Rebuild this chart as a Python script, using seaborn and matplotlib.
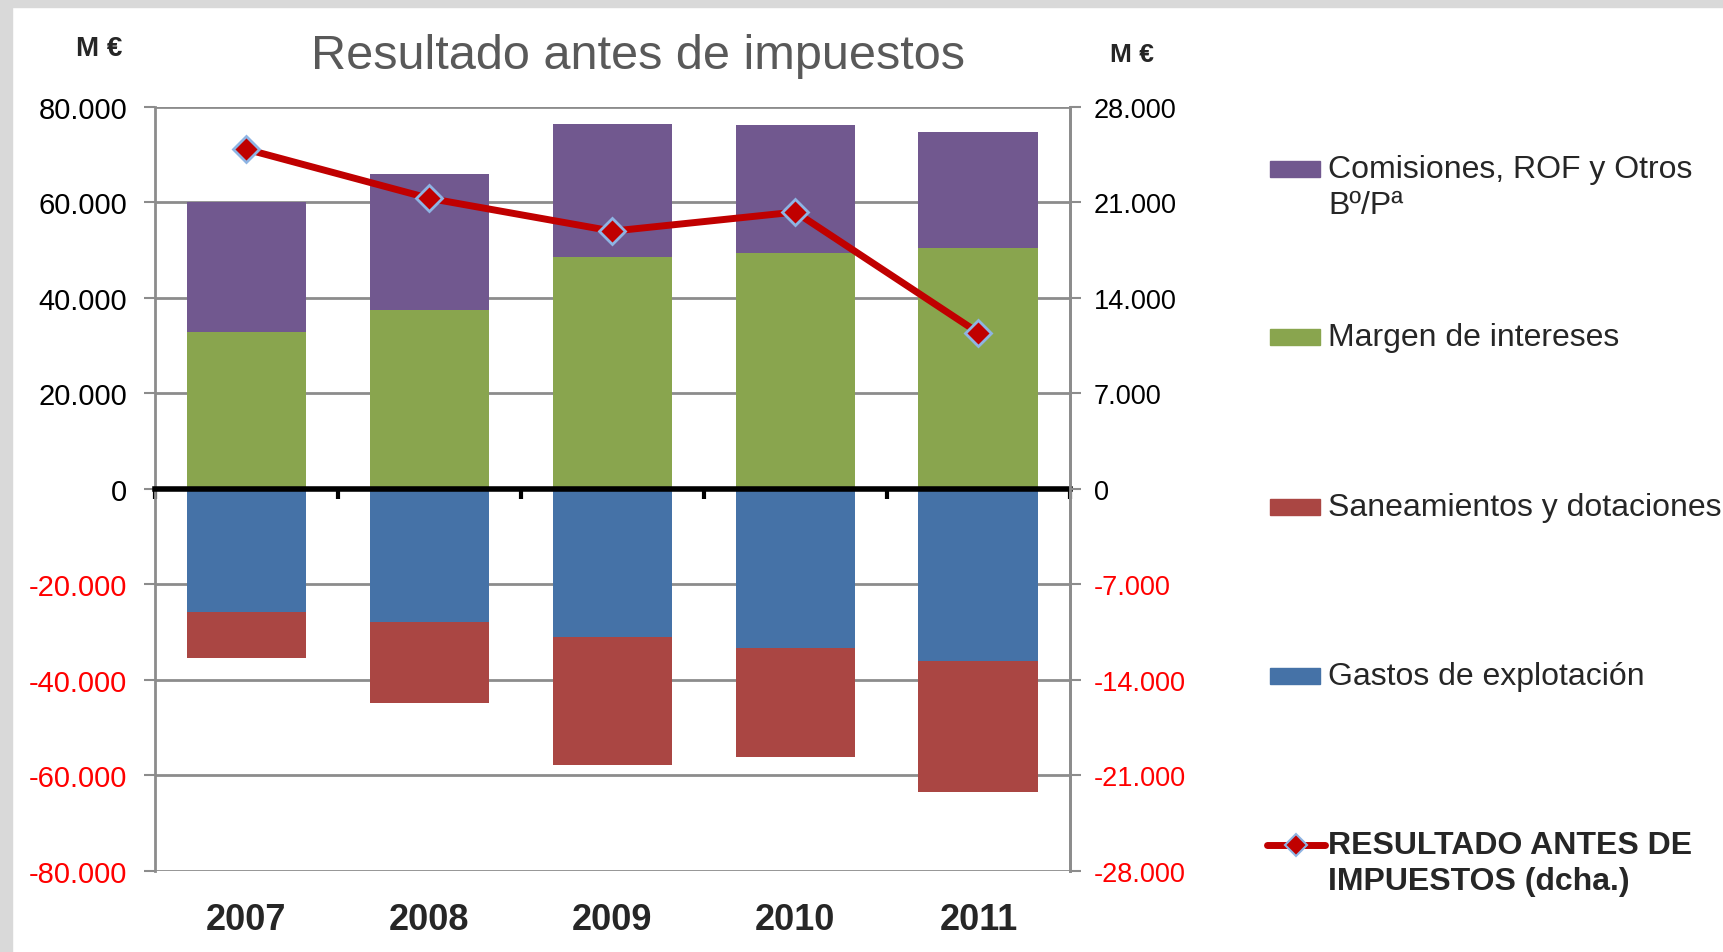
import numpy as np
import pandas as pd
import matplotlib
matplotlib.use("Agg")
import matplotlib.pyplot as plt
from matplotlib.patches import Rectangle
from matplotlib.lines import Line2D
import seaborn as sns

#--> Data (M €)
years = ["2007", "2008", "2009", "2010", "2011"]
margen = [32800, 37500, 48600, 49500, 50400]          # Margen de intereses
comisiones = [27300, 28500, 27800, 26700, 24400]      # Comisiones, ROF y Otros Bº/Pª
gastos = [-25700, -27800, -30900, -33300, -36000]     # Gastos de explotación
saneamientos = [-9700, -17000, -26800, -22800, -27500]  # Saneamientos y dotaciones
resultado = [24900, 21300, 18900, 20300, 11450]       # right axis

left_ticks = list(range(-80000, 80001, 20000))
right_ticks = list(range(-28000, 28001, 7000))

#--> Colours
c_purple = "#71588F"
c_green = "#89A54E"
c_red = "#AA4643"
c_blue = "#4572A7"
c_line = "#C00000"
c_grid = "#8C8C8C"

sns.set_style("white")
narrow = ["Liberation Sans Narrow", "Liberation Sans", "DejaVu Sans"]
wide = ["Liberation Sans", "DejaVu Sans"]
plt.rcParams["font.family"] = wide

df = pd.DataFrame({"year": years, "margen": margen, "comisiones": comisiones,
                   "gastos": gastos, "saneamientos": saneamientos,
                   "resultado": resultado})

fig = plt.figure(figsize=(17.24, 9.53), dpi=100)
# grey frame at left and top, as in the screenshot
fig.add_artist(Rectangle((0, 0), 12 / 1724, 1, transform=fig.transFigure,
                         color="#D9D9D9", zorder=0))
fig.add_artist(Rectangle((0, 1 - 8 / 953), 1, 8 / 953, transform=fig.transFigure,
                         color="#D9D9D9", zorder=0))

ax = fig.add_axes([0.0899, 0.085, 0.5307, 0.8017])
bw = 0.655
bar_kw = dict(saturation=1, width=bw, ax=ax, zorder=2, linewidth=0)
sns.barplot(data=df, x="year", y="margen", color=c_green, **bar_kw)
sns.barplot(data=df, x="year", y="comisiones", bottom=df["margen"], color=c_purple, **bar_kw)
sns.barplot(data=df, x="year", y="gastos", color=c_blue, **bar_kw)
sns.barplot(data=df, x="year", y="saneamientos", bottom=df["gastos"], color=c_red, **bar_kw)

ax.set_xlim(-0.5, len(years) - 0.5)
ax.set_ylim(-80000, 80000)
ax.set_yticks(left_ticks)
ax.set_yticklabels([f"{v:,.0f}".replace(",", ".") for v in left_ticks],
                   family=narrow, fontsize=21)
for lab, v in zip(ax.get_yticklabels(), left_ticks):
    lab.set_color("red" if v < 0 else "black")
ax.yaxis.grid(True, color=c_grid, lw=2)
ax.set_axisbelow(True)
ax.tick_params(axis="y", direction="out", length=8, width=1.5, color=c_grid, pad=12, left=True)
ax.set_xlabel("")
ax.set_ylabel("")

# zero axis: thick black line with tick marks between categories
ax.spines["bottom"].set_position(("data", 0))
ax.spines["bottom"].set_color("black")
ax.spines["bottom"].set_linewidth(4)
ax.spines["bottom"].set_zorder(5)
ax.set_xticks(np.arange(len(years)))
ax.set_xticklabels([])
ax.tick_params(axis="x", which="major", length=0)
ax.set_xticks(np.arange(-0.5, len(years)), minor=True)
ax.tick_params(axis="x", which="minor", direction="out", length=7, width=3,
               color="black", bottom=True)
ax.spines["top"].set_visible(False)
for s in ["left", "right"]:
    ax.spines[s].set_color(c_grid)
    ax.spines[s].set_linewidth(2)

# year labels under the plot
sec = ax.secondary_xaxis(0)
sec.set_xticks(np.arange(len(years)))
sec.set_xticklabels(years, family=narrow, fontsize=26, fontweight="bold")
sec.tick_params(length=0, pad=22)
sec.spines["bottom"].set_visible(False)

# line on the right axis
ax2 = ax.twinx()
sns.lineplot(x=np.arange(len(years)), y=df["resultado"], ax=ax2, color=c_line,
             lw=5, marker="D", markersize=13, markerfacecolor=c_line,
             markeredgecolor="#8EB4E3", markeredgewidth=2, zorder=6)
ax2.set_ylim(-28000, 28000)
ax2.set_yticks(right_ticks)
ax2.set_yticklabels([f"{v:,.0f}".replace(",", ".") for v in right_ticks],
                    family=wide, fontsize=19.5)
for lab, v in zip(ax2.get_yticklabels(), right_ticks):
    lab.set_color("red" if v < 0 else "black")
ax2.tick_params(axis="y", direction="out", length=8, width=1.5, color=c_grid, pad=9)
ax2.set_ylabel("")
for s in ["top", "bottom", "left"]:
    ax2.spines[s].set_visible(False)
ax2.spines["right"].set_color(c_grid)
ax2.spines["right"].set_linewidth(2)

# title and units
fig.text(0.37, 0.941, "Resultado antes de impuestos", family=narrow, fontsize=35,
         color="#595959", ha="center", va="center")
fig.text(99 / 1724, 1 - 49 / 953, "M €", family=narrow, fontsize=20,
         fontweight="bold", ha="center", va="center")
fig.text(1132 / 1724, 1 - 55 / 953, "M €", family=wide, fontsize=19,
         fontweight="bold", ha="center", va="center")

# legend drawn by hand to keep the Excel layout
W, H = 1724, 953
leg = [
    (c_purple, ["Comisiones, ROF y Otros", "Bº/Pª"], 170, "patch"),
    (c_green, ["Margen de intereses"], 338, "patch"),
    (c_red, ["Saneamientos y dotaciones"], 508, "patch"),
    (c_blue, ["Gastos de explotación"], 677, "patch"),
    (c_line, ["RESULTADO ANTES DE", "IMPUESTOS (dcha.)"], 846, "line"),
]
for col, lines, yy, kind in leg:
    if kind == "patch":
        fig.add_artist(Rectangle((1270 / W, 1 - (yy + 8) / H), 50 / W, 16 / H,
                                 transform=fig.transFigure, color=col))
        weight = "normal"
    else:
        fig.add_artist(Line2D([1267 / W, 1325 / W], [1 - yy / H] * 2,
                              transform=fig.transFigure, color=col, lw=5))
        fig.add_artist(Line2D([1296 / W], [1 - yy / H], transform=fig.transFigure,
                              marker="D", markersize=11, color=col,
                              markeredgecolor="#8EB4E3", markeredgewidth=1.5))
        weight = "bold"
    for i, t in enumerate(lines):
        fig.text(1328 / W, 1 - (yy + 36 * i) / H, t, family=wide, fontsize=23,
                 fontweight=weight, ha="left", va="center")

fig.savefig("out.png", dpi=100)
